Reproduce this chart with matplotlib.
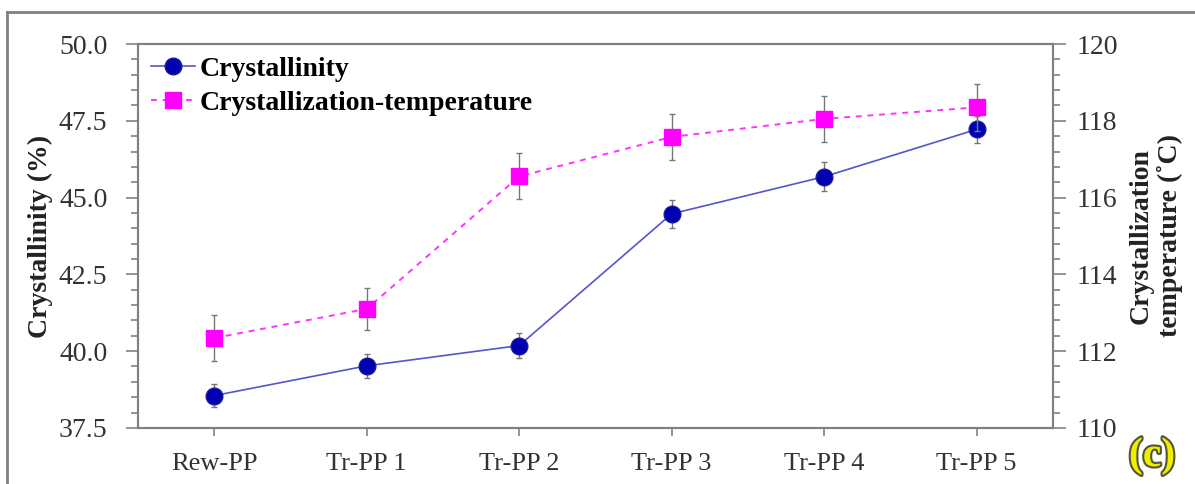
import matplotlib
matplotlib.use("Agg")
import matplotlib.pyplot as plt
from matplotlib.ticker import MultipleLocator
from matplotlib.lines import Line2D
import matplotlib.patheffects as pe

plt.rcParams['font.family'] = ['Liberation Serif', 'DejaVu Serif']

samples = ["Rew-PP", "Tr-PP 1", "Tr-PP 2", "Tr-PP 3", "Tr-PP 4", "Tr-PP 5"]
crystallinity = [38.55, 39.52, 40.18, 44.47, 45.68, 47.22]
crystallinity_err = [0.38, 0.4, 0.4, 0.45, 0.48, 0.45]
cryst_temp = [112.34, 113.1, 116.55, 117.58, 118.05, 118.35]
cryst_temp_err = [0.6, 0.55, 0.6, 0.6, 0.6, 0.62]

grey = "#808080"
txt = "#333333"

fig = plt.figure(figsize=(11.95, 4.84), dpi=100)
ax = fig.add_axes([0.1155, 0.116, 0.7655, 0.793])
x = list(range(len(samples)))

ax.errorbar(x, crystallinity, yerr=crystallinity_err, color="#5555cc", lw=1.2,
            marker="o", ms=12, mfc="#0000b0", mec="#1a1aa0",
            ecolor="#777777", elinewidth=1, capsize=2.5, zorder=3)
ax.set_ylim(37.5, 50.0)
ax.set_xlim(-0.5, 5.5)
ax.yaxis.set_major_locator(MultipleLocator(2.5))
ax.yaxis.set_minor_locator(MultipleLocator(0.5))
ax.yaxis.set_major_formatter(plt.FormatStrFormatter("%.1f"))
ax.set_xticks(x)
ax.set_xticklabels(samples)
ax.set_ylabel("Crystallinity (%)", fontsize=20, fontweight="bold", color="#222222", labelpad=4)

ax2 = ax.twinx()
ax2.errorbar(x, cryst_temp, yerr=cryst_temp_err, color="#ff33ff", lw=1.4, ls=(0, (3, 3)),
             marker="s", ms=11, mfc="#ff00ff", mec="#ff00ff",
             ecolor="#777777", elinewidth=1, capsize=2.5, zorder=3)
ax2.set_ylim(110, 120)
ax2.yaxis.set_major_locator(MultipleLocator(2))
ax2.yaxis.set_minor_locator(MultipleLocator(0.4))
ax2.set_ylabel("Crystallization\ntemperature (\u02daC)", fontsize=20, fontweight="bold",
               color="#222222", labelpad=8, linespacing=1.15)

for a in (ax, ax2):
    for s in a.spines.values():
        s.set_color(grey)
        s.set_linewidth(1.5)
    a.tick_params(which="major", direction="out", length=9, width=1.2, color=grey,
                  labelsize=20, labelcolor=txt)
    a.tick_params(which="minor", direction="out", length=5, width=1.2, color=grey)
ax.tick_params(axis="x", which="major", length=6, pad=12, labelsize=19)
ax.tick_params(axis="y", pad=13)
ax2.tick_params(axis="y", pad=8)

handles = [Line2D([], [], color="#5555cc", lw=1.2, marker="o", ms=12, mfc="#0000b0", mec="#1a1aa0"),
           Line2D([], [], color="#ff33ff", lw=1.4, ls=(0, (3, 3)), marker="s", ms=11,
                  mfc="#ff00ff", mec="#ff00ff")]
ax.legend(handles, ["Crystallinity", "Crystallization-temperature"], loc="upper left",
          frameon=False, prop={"weight": "bold", "size": 20}, handlelength=1.6,
          handletextpad=0.15, borderaxespad=0.05, labelspacing=0.3)

# outer frame
fig.add_artist(Line2D([0.006, 1.0], [0.975, 0.975], color=grey, lw=2, transform=fig.transFigure))
fig.add_artist(Line2D([0.006, 0.006], [0.0, 0.975], color=grey, lw=2, transform=fig.transFigure))

fig.text(0.964, 0.058, "(c)", fontsize=30, fontweight="bold", color="#eeee00",
         ha="center", va="center",
         path_effects=[pe.withStroke(linewidth=3, foreground="#555533")])

fig.savefig("out.png", dpi=100)
